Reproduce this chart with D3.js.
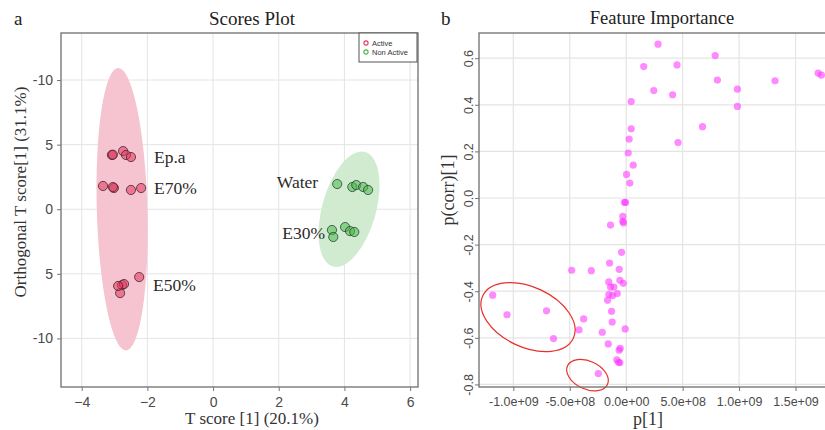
<!DOCTYPE html>
<html><head><meta charset="utf-8">
<script src="https://cdn.jsdelivr.net/npm/d3@7"></script>
<style>body{margin:0;background:#fff}svg{display:block}</style>
</head><body><svg id="c" width="825" height="430"></svg>
<script>
// ---------- Panel a: Scores plot ----------
const sampleGroups = ["Ep.a","Ep.a","Ep.a","Ep.a","Ep.a",
  "E70%","E70%","E70%","E70%","E70%",
  "E50%","E50%","E50%","E50%","E50%",
  "Water","Water","Water","Water","Water",
  "E30%","E30%","E30%","E30%","E30%"];
const sampleClass = ["Active","Active","Active","Active","Active",
  "Active","Active","Active","Active","Active",
  "Active","Active","Active","Active","Active",
  "Non Active","Non Active","Non Active","Non Active","Non Active",
  "Non Active","Non Active","Non Active","Non Active","Non Active"];
const tScore = [-3.08,-3.05,-2.74,-2.65,-2.50,
  -3.35,-3.02,-3.05,-2.50,-2.19,
  -2.25,-2.77,-2.71,-2.83,-2.89,
  3.78,4.24,4.36,4.57,4.72,
  3.62,3.66,4.02,4.17,4.30];
const orthoScore = [4.20,4.22,4.50,4.20,4.04,
  1.80,1.64,1.72,1.49,1.64,
  -5.25,-5.87,-5.79,-6.49,-5.94,
  1.95,1.72,1.87,1.72,1.49,
  -1.61,-2.15,-1.38,-1.69,-1.76];

const groupLabels = ["Ep.a","E70%","E50%","Water","E30%"];
const groupLabelX = [-1.80,-1.80,-1.83,3.20,3.41];
const groupLabelY = [3.58,1.17,-6.33,1.64,-2.31];
const groupLabelSide = ["start","start","start","end","end"];

const ellipseClass = ["Active","Non Active"];
const ellipseCx = [-2.77, 4.14];
const ellipseCy = [0.0, 0.0];
const ellipseTopX = [-2.89, 4.63];
const ellipseTopY = [10.93, 4.43];
const ellipseHalfWidth = [0.77, 0.82];

const scoreXTicks = [-4,-2,0,2,4,6];
const scoreYTicks = [10,5,0,-5,-10];
const scoreYTickLabels = ["-10","5","0","5","-10"];
const legendItems = ["Active","Non Active"];

// ---------- Panel b: Feature importance ----------
const p1 = [0.282,0.155,0.450,0.788,0.808,0.244,0.411,0.985,0.985,1.318,1.700,1.730,
  0.044,0.044,0.676,0.026,0.459,0.018,0.062,0.003,0.032,-0.015,-0.006,-0.030,-0.030,-0.024,
  -0.139,-0.041,-0.483,-0.309,-0.147,-0.062,-0.056,-0.026,-0.154,-0.139,-0.109,-0.079,
  -0.154,-0.121,-0.165,-0.130,-0.124,-0.009,-0.377,-0.418,-0.212,-0.159,-0.053,-0.062,
  -0.083,-0.068,-0.056,-0.247,-1.183,-1.056,-0.706,-0.644].map(v => v * 1e9);
const pCorr = [0.660,0.564,0.571,0.611,0.506,0.461,0.443,0.467,0.393,0.503,0.536,0.527,
  0.414,0.297,0.306,0.253,0.238,0.193,0.141,0.101,0.064,-0.019,-0.019,-0.079,-0.100,-0.107,
  -0.116,-0.233,-0.310,-0.312,-0.279,-0.306,-0.353,-0.366,-0.360,-0.382,-0.382,-0.410,
  -0.414,-0.419,-0.439,-0.486,-0.532,-0.562,-0.519,-0.566,-0.576,-0.626,-0.645,-0.653,
  -0.694,-0.705,-0.707,-0.753,-0.417,-0.501,-0.484,-0.603];
const featXTicks = [-1.0e9,-5.0e8,0,5.0e8,1.0e9,1.5e9];
const featXTickLabels = ["-1.0e+09","-5.0e+08","0.0e+00","5.0e+08","1.0e+09","1.5e+09"];
const featYTicks = [0.6,0.4,0.2,0.0,-0.2,-0.4,-0.6,-0.8];
const featYTickLabels = ["0.6","0.4","0.2","0.0","-0.2","-0.4","-0.6","-0.8"];

// highlight ellipses (data units, tilt in degrees)
const hlCx = [-0.870e9, -0.343e9];
const hlCy = [-0.511, -0.760];
const hlRx = [0.443e9, 0.195e9];
const hlRy = [0.129, 0.060];
const hlTilt = [25, 25];

// ---------- drawing ----------
const svg = d3.select("#c");
const serif = "'Liberation Serif', 'DejaVu Serif', serif";
const sans = "'Liberation Sans', Arial, sans-serif";
const classFill = {"Active":"#e4365f","Non Active":"#4cb84c"};
const classEll = {"Active":"#f6c3d0","Non Active":"#d0ebd0"};
const classStroke = {"Active":"#3a2228","Non Active":"#23402a"};

// Panel a
const A = {l:61, r:418, t:33, b:387};
const xL = d3.scaleLinear().domain([-4.63, 6.24]).range([A.l, A.r]);
const yL = d3.scaleLinear().domain([13.64, -13.76]).range([A.t, A.b]);
const ga = svg.append("g");

ga.append("g").selectAll("line").data(scoreXTicks).join("line")
  .attr("x1", d => xL(d)).attr("x2", d => xL(d)).attr("y1", A.t).attr("y2", A.b)
  .attr("stroke", "#e4e4e4").attr("stroke-width", 1);
ga.append("g").selectAll("line").data(scoreYTicks).join("line")
  .attr("y1", d => yL(d)).attr("y2", d => yL(d)).attr("x1", A.l).attr("x2", A.r)
  .attr("stroke", "#e4e4e4").attr("stroke-width", 1);

// confidence ellipses
ellipseClass.forEach((c, i) => {
  const cx = xL(ellipseCx[i]), cy = yL(ellipseCy[i]);
  const tx = xL(ellipseTopX[i]), ty = yL(ellipseTopY[i]);
  const ry = Math.hypot(tx - cx, ty - cy);
  const rx = xL(ellipseCx[i] + ellipseHalfWidth[i]) - cx;
  const ang = Math.atan2(tx - cx, -(ty - cy)) * 180 / Math.PI;
  ga.append("ellipse").attr("cx", cx).attr("cy", cy).attr("rx", rx).attr("ry", ry)
    .attr("transform", `rotate(${ang},${cx},${cy})`)
    .attr("fill", classEll[c]);
});

// points
ga.append("g").selectAll("circle").data(tScore.map((t, i) => i)).join("circle")
  .attr("cx", i => xL(tScore[i])).attr("cy", i => yL(orthoScore[i])).attr("r", 4.6)
  .attr("fill", i => classFill[sampleClass[i]]).attr("fill-opacity", 0.55)
  .attr("stroke", i => classStroke[sampleClass[i]]).attr("stroke-width", 0.9).attr("stroke-opacity", 0.85);

// group labels
ga.append("g").selectAll("text").data(groupLabels).join("text")
  .attr("x", (d, i) => xL(groupLabelX[i])).attr("y", (d, i) => yL(groupLabelY[i]))
  .attr("text-anchor", (d, i) => groupLabelSide[i])
  .attr("font-family", serif).attr("font-size", 17.5).attr("fill", "#2b2b2b").text(d => d);

// axes
const axL = ga.append("g").attr("transform", `translate(${A.l},0)`)
  .call(d3.axisLeft(yL).tickValues(scoreYTicks).tickFormat((d, i) => scoreYTickLabels[i]).tickSize(4).tickPadding(4));
const axB = ga.append("g").attr("transform", `translate(0,${A.b})`)
  .call(d3.axisBottom(xL).tickValues(scoreXTicks).tickFormat(d3.format("d")).tickSize(4).tickPadding(6));
[axL, axB].forEach(g => {
  g.select(".domain").remove();
  g.selectAll(".tick line").attr("stroke", "#777");
  g.selectAll(".tick text").attr("font-family", sans).attr("font-size", 14).attr("fill", "#4a4a4a");
});
ga.append("rect").attr("x", A.l).attr("y", A.t).attr("width", A.r - A.l).attr("height", A.b - A.t)
  .attr("fill", "none").attr("stroke", "#6e6e6e").attr("stroke-width", 1.3);

// legend
const lg = ga.append("g");
lg.append("rect").attr("x", 359).attr("y", A.t).attr("width", 58).attr("height", 29)
  .attr("fill", "#fff").attr("stroke", "#555").attr("stroke-width", 1);
legendItems.forEach((c, i) => {
  lg.append("circle").attr("cx", 366).attr("cy", 43 + i * 9).attr("r", 2.1)
    .attr("fill", "none").attr("stroke", classFill[c]).attr("stroke-width", 1.1);
  lg.append("text").attr("x", 372).attr("y", 45.5 + i * 9).attr("font-family", sans)
    .attr("font-size", 7.5).attr("fill", "#333").text(c);
});

ga.append("text").attr("x", 252).attr("y", 25).attr("text-anchor", "middle")
  .attr("font-family", serif).attr("font-size", 19).attr("fill", "#222").text("Scores Plot");
ga.append("text").attr("x", 14).attr("y", 25)
  .attr("font-family", serif).attr("font-size", 19).attr("fill", "#222").text("a");
ga.append("text").attr("x", 252).attr("y", 424).attr("text-anchor", "middle")
  .attr("font-family", serif).attr("font-size", 17).attr("fill", "#333").text("T score [1] (20.1%)");
ga.append("text").attr("transform", "translate(26,192) rotate(-90)").attr("text-anchor", "middle")
  .attr("font-family", serif).attr("font-size", 17).attr("fill", "#333").text("Orthogonal T score[1] (31.1%)");

// Panel b
const B = {l:479, r:832, t:33, b:387};
const xR = d3.scaleLinear().domain([-1.304e9, 1.823e9]).range([B.l, B.r]);
const yR = d3.scaleLinear().domain([0.708, -0.811]).range([B.t, B.b]);
const gb = svg.append("g");

gb.append("g").selectAll("line").data(featXTicks).join("line")
  .attr("x1", d => xR(d)).attr("x2", d => xR(d)).attr("y1", B.t).attr("y2", B.b)
  .attr("stroke", "#e4e4e4").attr("stroke-width", 1.2);
gb.append("g").selectAll("line").data(featYTicks).join("line")
  .attr("y1", d => yR(d)).attr("y2", d => yR(d)).attr("x1", B.l).attr("x2", B.r)
  .attr("stroke", "#e4e4e4").attr("stroke-width", 1.2);

gb.append("g").selectAll("circle").data(p1.map((v, i) => i)).join("circle")
  .attr("cx", i => xR(p1[i])).attr("cy", i => yR(pCorr[i])).attr("r", 3.6)
  .attr("fill", "#ff33ff").attr("fill-opacity", 0.58);

hlCx.forEach((c, i) => {
  const cx = xR(c), cy = yR(hlCy[i]);
  const rx = xR(c + hlRx[i]) - cx, ry = yR(hlCy[i] - hlRy[i]) - cy;
  gb.append("ellipse").attr("cx", cx).attr("cy", cy).attr("rx", rx).attr("ry", ry)
    .attr("transform", `rotate(${hlTilt[i]},${cx},${cy})`)
    .attr("fill", "none").attr("stroke", "#e8302a").attr("stroke-width", 1.2);
});

const bL = gb.append("g").attr("transform", `translate(${B.l},0)`)
  .call(d3.axisLeft(yR).tickValues(featYTicks).tickFormat((d, i) => featYTickLabels[i]).tickSize(4));
bL.selectAll(".tick text").attr("transform", "rotate(-90)").attr("x", 0).attr("y", -6).attr("dy", 0)
  .attr("text-anchor", "middle");
const bB = gb.append("g").attr("transform", `translate(0,${B.b})`)
  .call(d3.axisBottom(xR).tickValues(featXTicks).tickFormat((d, i) => featXTickLabels[i]).tickSize(4).tickPadding(6));
[bL, bB].forEach(g => {
  g.select(".domain").remove();
  g.selectAll(".tick line").attr("stroke", "#777");
  g.selectAll(".tick text").attr("font-family", sans).attr("font-size", 12.5).attr("fill", "#4a4a4a");
});
gb.append("rect").attr("x", B.l).attr("y", B.t).attr("width", B.r - B.l).attr("height", B.b - B.t)
  .attr("fill", "none").attr("stroke", "#6e6e6e").attr("stroke-width", 1.3);

gb.append("text").attr("x", 662).attr("y", 24).attr("text-anchor", "middle")
  .attr("font-family", serif).attr("font-size", 18.5).attr("fill", "#222").text("Feature Importance");
gb.append("text").attr("x", 441).attr("y", 25)
  .attr("font-family", serif).attr("font-size", 19).attr("fill", "#222").text("b");
gb.append("text").attr("x", 648).attr("y", 425).attr("text-anchor", "middle")
  .attr("font-family", serif).attr("font-size", 18).attr("fill", "#333").text("p[1]");
gb.append("text").attr("transform", "translate(454,190) rotate(-90)").attr("text-anchor", "middle")
  .attr("font-family", serif).attr("font-size", 18).attr("fill", "#333").text("p(corr)[1]");
</script></body></html>
